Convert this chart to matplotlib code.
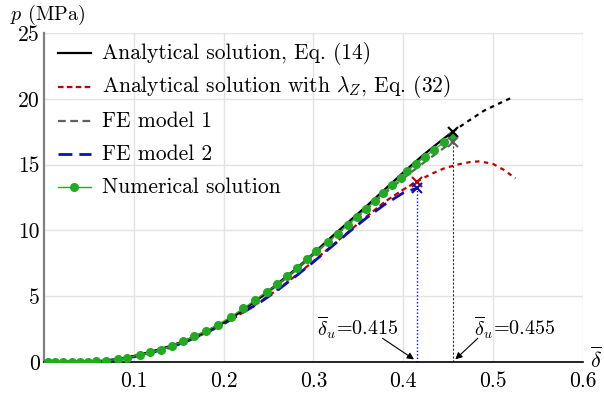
import matplotlib
matplotlib.use("Agg")
import matplotlib.pyplot as plt
from matplotlib.lines import Line2D

plt.rcParams['font.family'] = ['cmr10', 'DejaVu Serif']
plt.rcParams['mathtext.fontset'] = 'cm'
plt.rcParams['axes.formatter.use_mathtext'] = True

# Analytical solution, Eq. (14)
an_x = [0, 0.02, 0.04, 0.06, 0.08, 0.10, 0.12, 0.14, 0.16, 0.18, 0.20, 0.22, 0.24,
        0.26, 0.28, 0.30, 0.32, 0.34, 0.36, 0.38, 0.40, 0.42, 0.44, 0.455]
an_p = [0, 0.002, 0.015, 0.06, 0.2, 0.45, 0.8, 1.2, 1.7, 2.3, 3.0, 3.85, 4.85,
        5.95, 7.05, 8.25, 9.5, 10.7, 11.9, 13.15, 14.4, 15.6, 16.7, 17.5]
# continuation (dotted)
anc_x = [0.455, 0.47, 0.49, 0.51, 0.523]
anc_p = [17.5, 18.2, 19.1, 19.75, 20.15]

# Analytical solution with lambda_Z, Eq. (32)
lz_x = [0, 0.04, 0.06, 0.08, 0.10, 0.12, 0.14, 0.16, 0.18, 0.20, 0.22, 0.24, 0.26,
        0.28, 0.30, 0.32, 0.34, 0.36, 0.38, 0.40, 0.415]
lz_p = [0, 0.01, 0.05, 0.17, 0.4, 0.72, 1.1, 1.6, 2.2, 2.9, 3.7, 4.55, 5.5,
        6.55, 7.65, 8.8, 9.95, 11.1, 12.2, 13.1, 13.7]
lzc_x = [0.415, 0.43, 0.445, 0.46, 0.475, 0.485, 0.50, 0.512, 0.525]
lzc_p = [13.7, 14.25, 14.7, 15.0, 15.2, 15.25, 15.05, 14.6, 13.95]

# FE model 1
fe1_x = [0, 0.04, 0.06, 0.08, 0.10, 0.12, 0.14, 0.16, 0.18, 0.20, 0.22, 0.24, 0.26,
         0.28, 0.30, 0.32, 0.34, 0.36, 0.38, 0.40, 0.42, 0.44, 0.455]
fe1_p = [0, 0.01, 0.05, 0.18, 0.43, 0.77, 1.17, 1.68, 2.28, 2.98, 3.85, 4.8, 5.85,
         6.95, 8.15, 9.35, 10.5, 11.65, 12.85, 13.95, 15.0, 16.0, 16.75]

# FE model 2
fe2_x = [0, 0.04, 0.06, 0.08, 0.10, 0.12, 0.14, 0.16, 0.18, 0.20, 0.22, 0.24, 0.26,
         0.28, 0.30, 0.32, 0.34, 0.36, 0.38, 0.40, 0.415]
fe2_p = [0, 0.01, 0.05, 0.17, 0.4, 0.72, 1.1, 1.6, 2.2, 2.9, 3.7, 4.5, 5.45,
         6.5, 7.6, 8.75, 9.9, 11.0, 12.0, 12.85, 13.2]

# Numerical solution
num_x = [0.004, 0.012, 0.021, 0.031, 0.040, 0.049, 0.058, 0.069, 0.082, 0.093, 0.107,
         0.118, 0.130, 0.143, 0.155, 0.167, 0.180, 0.194, 0.208, 0.222, 0.235, 0.248,
         0.260, 0.271, 0.282, 0.293, 0.303, 0.316, 0.327, 0.338, 0.349, 0.359, 0.369,
         0.378, 0.388, 0.397, 0.404, 0.414, 0.424, 0.434, 0.445, 0.454]
num_p = [0.0, 0.0, 0.0, 0.0, 0.01, 0.02, 0.04, 0.09, 0.2, 0.33, 0.55,
         0.73, 0.93, 1.25, 1.58, 1.95, 2.35, 2.85, 3.43, 4.07, 4.7, 5.35,
         5.9, 6.5, 7.15, 7.8, 8.4, 9.1, 9.75, 10.4, 11.05, 11.65, 12.25,
         12.85, 13.45, 14.0, 14.5, 15.05, 15.6, 16.1, 16.7, 17.15]

legend_labels = ['Analytical solution, Eq. (14)',
                 r'Analytical solution with $\lambda_Z$, Eq. (32)',
                 'FE model 1', 'FE model 2', 'Numerical solution']
xticks = [0.1, 0.2, 0.3, 0.4, 0.5, 0.6]
yticks = [0, 5, 10, 15, 20, 25]
du1, du2 = 0.415, 0.455

fig = plt.figure(figsize=(6.04, 3.95), dpi=100)
ax = fig.add_axes([0.0728, 0.0835, 0.8922, 0.833])
ax.set_xlim(0, 0.6)
ax.set_ylim(0, 25)
ax.set_xticks(xticks)
ax.set_yticks(yticks)
ax.set_xticklabels(['%.1f' % v for v in xticks])
ax.set_yticklabels(['%d' % v for v in yticks])
ax.grid(True, color='#e3e3e3', lw=1.0)
ax.set_axisbelow(True)
for s in ['top', 'right']:
    ax.spines[s].set_visible(False)
ax.spines['left'].set_color('#808080')
ax.spines['left'].set_linewidth(1.6)
ax.spines['bottom'].set_color('black')
ax.spines['bottom'].set_linewidth(1.2)
ax.tick_params(length=0, labelsize=15.5)
ax.tick_params(axis='x', pad=7)
ax.tick_params(axis='y', pad=3)

red = '#c00000'
blue = '#1010b0'
green = '#22aa22'
gray = '#606060'

# vertical guide lines
ax.plot([du1, du1], [0, fe2_p[-1]], color=blue, lw=1.0, ls=(0, (1, 1.5)))
ax.plot([du2, du2], [0, fe1_p[-1]], color='#333333', lw=0.8, ls=(0, (2, 1.5)))

styles = [dict(color='black', lw=1.6, ls='-'),
          dict(color=red, lw=1.6, ls=(0, (2.5, 1.5))),
          dict(color=gray, lw=1.6, ls=(0, (3.5, 2))),
          dict(color=blue, lw=2.0, ls=(0, (5, 2.5))),
          dict(color=green, lw=1.0, ls='-', marker='o', ms=5.5)]

ax.plot(lz_x, lz_p, zorder=3, **styles[1])
ax.plot(lzc_x, lzc_p, color=red, lw=1.6, ls=(0, (2, 2)), zorder=3)
ax.plot(fe2_x, fe2_p, zorder=3, **styles[3])
ax.plot(fe1_x, fe1_p, zorder=3, **styles[2])
ax.plot(an_x, an_p, zorder=4, **styles[0])
ax.plot(anc_x, anc_p, color='black', lw=1.6, ls=(0, (2, 2)), zorder=4)
ax.plot(num_x, num_p, zorder=5, **styles[4])

ax.plot([du2], [an_p[-1]], marker='x', color='black', ms=6.5, mew=1.5, zorder=6)
ax.plot([du2], [fe1_p[-1]], marker='x', color=gray, ms=6.5, mew=1.5, zorder=6)
ax.plot([du1], [lz_p[-1]], marker='x', color=red, ms=6.5, mew=1.5, zorder=6)
ax.plot([du1], [fe2_p[-1]], marker='x', color=blue, ms=6.5, mew=1.5, zorder=6)

# legend (drawn manually for even row spacing)
leg_y = [0.939, 0.836, 0.733, 0.632, 0.532]
for lbl, st, yy in zip(legend_labels, styles, leg_y):
    kw = dict(st)
    if 'marker' in kw:
        ax.add_line(Line2D([0.026, 0.087], [yy, yy], transform=ax.transAxes,
                           color=kw['color'], lw=kw['lw'], zorder=7))
        ax.add_line(Line2D([0.0565], [yy], transform=ax.transAxes, color=kw['color'],
                           marker='o', ms=kw['ms'], ls='none', zorder=7))
    else:
        ax.add_line(Line2D([0.026, 0.087], [yy, yy], transform=ax.transAxes,
                           zorder=7, **kw))
    ax.text(0.108, yy, lbl, transform=ax.transAxes, fontsize=15.5,
            ha='left', va='center', zorder=7)

ax.text(0.349, 2.6, r'$\overline{\delta}_u$=0.415', fontsize=14.5, ha='center', va='center')
ax.text(0.524, 2.6, r'$\overline{\delta}_u$=0.455', fontsize=14.5, ha='center', va='center')
ax.annotate('', xy=(du1 - 0.003, 0.2), xytext=(0.377, 1.8),
            arrowprops=dict(arrowstyle='-|>', color='black', lw=0.8,
                            mutation_scale=10, shrinkA=0, shrinkB=0))
ax.annotate('', xy=(du2 + 0.003, 0.2), xytext=(0.483, 1.8),
            arrowprops=dict(arrowstyle='-|>', color='black', lw=0.8,
                            mutation_scale=10, shrinkA=0, shrinkB=0))

fig.text(0.017, 0.962, r'$p$ (MPa)', fontsize=14.5, ha='left', va='center')
fig.text(0.987, 0.09, r'$\overline{\delta}$', fontsize=16, ha='center', va='center')

fig.savefig('out.png', dpi=100)
